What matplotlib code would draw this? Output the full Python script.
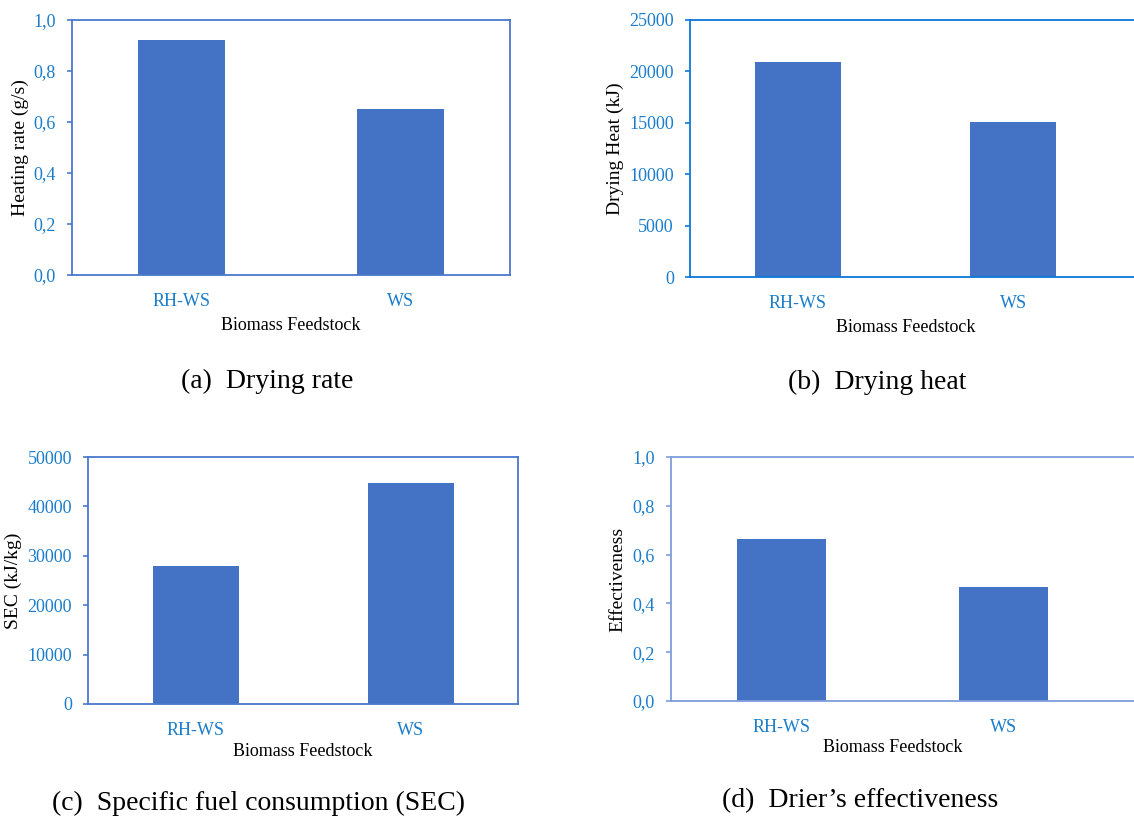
import matplotlib
matplotlib.use("Agg")
import matplotlib.pyplot as plt
from matplotlib.ticker import FuncFormatter
from matplotlib.lines import Line2D

plt.rcParams['font.family'] = ['Liberation Serif', 'DejaVu Serif']

# Data
categories = ["RH-WS", "WS"]
heating_rate = [0.92, 0.65]          # g/s
drying_heat = [20950, 15100]         # kJ
sec_values = [27950, 44800]          # kJ/kg
effectiveness = [0.664, 0.468]

W, H = 1134, 818
DPI = 100
fig = plt.figure(figsize=(W / DPI, H / DPI), dpi=DPI)

BAR = "#4472C4"
TICK_TXT = "#1A7CCB"


def rect(l, t, r, b):
    return [l / W, (H - b) / H, (r - l) / W, (b - t) / H]


def comma_fmt(v, _):
    return f"{v:.1f}".replace(".", ",")


def panel(box, values, ylim, yticks, ylabel, spine_col, ylab_x, xlab_y,
          caption, cap_xy, fmt=None, open_right=False):
    l, t, r, b = box
    ax = fig.add_axes(rect(l, t, r, b))
    ax.bar(range(len(categories)), values, width=0.4, color=BAR, zorder=2)
    ax.set_xlim(-0.5, len(categories) - 0.5)
    ax.set_ylim(*ylim)
    ax.set_yticks(yticks)
    if fmt is not None:
        ax.yaxis.set_major_formatter(FuncFormatter(fmt))
    ax.set_xticks(range(len(categories)))
    ax.set_xticklabels(categories)

    for s in ax.spines.values():
        s.set_color(spine_col)
        s.set_linewidth(1.3)
    if open_right:
        # frame runs off the right edge of the figure
        ax.spines['right'].set_visible(False)
        ax.spines['top'].set_visible(False)
        ax.spines['bottom'].set_visible(False)
        x_end = (W - l) / (r - l)
        for yy in (0, 1):
            ax.add_line(Line2D([0, x_end], [yy, yy],
                               transform=ax.transAxes, color=spine_col,
                               lw=1.3, clip_on=False))

    ax.tick_params(axis='y', direction='out', length=3.6, width=1.2,
                   color=spine_col, labelcolor=TICK_TXT, labelsize=13, pad=8)
    ax.tick_params(axis='x', length=0, labelcolor=TICK_TXT, labelsize=13,
                   pad=13)

    ax.set_ylabel(ylabel, fontsize=14, color="black")
    ax.yaxis.label.set_va('center')
    ax.yaxis.set_label_coords((ylab_x - l) / (r - l), 0.5)

    ax.set_xlabel("Biomass Feedstock", fontsize=13, color="black")
    ax.xaxis.label.set_va('center')
    ax.xaxis.set_label_coords(0.5, -(xlab_y - b) / (b - t))

    fig.text(cap_xy[0] / W, 1 - cap_xy[1] / H, caption, fontsize=20,
             ha='center', va='center', color='black')
    return ax


panel((72, 20, 510, 275), heating_rate, (0, 1.0),
      [0, 0.2, 0.4, 0.6, 0.8, 1.0], "Heating rate (g/s)", "#4A78CC",
      20, 325, "(a)  Drying rate", (267, 381), fmt=comma_fmt)

panel((690, 20, 1121, 277), drying_heat, (0, 25000),
      [0, 5000, 10000, 15000, 20000, 25000], "Drying Heat (kJ)", "#0B78D6",
      615, 328, "(b)  Drying heat", (877, 382), open_right=True)

panel((88, 457, 518, 704), sec_values, (0, 50000),
      [0, 10000, 20000, 30000, 40000, 50000], "SEC (kJ/kg)", "#4A78CC",
      13, 752, "(c)  Specific fuel consumption (SEC)", (258, 803))

panel((671, 457, 1114, 701), effectiveness, (0, 1.0),
      [0, 0.2, 0.4, 0.6, 0.8, 1.0], "Effectiveness", "#7F9EDC",
      618, 748, "(d)  Drier\u2019s effectiveness", (860, 801),
      fmt=comma_fmt, open_right=True)

fig.savefig("out.png", dpi=DPI, facecolor="white")
